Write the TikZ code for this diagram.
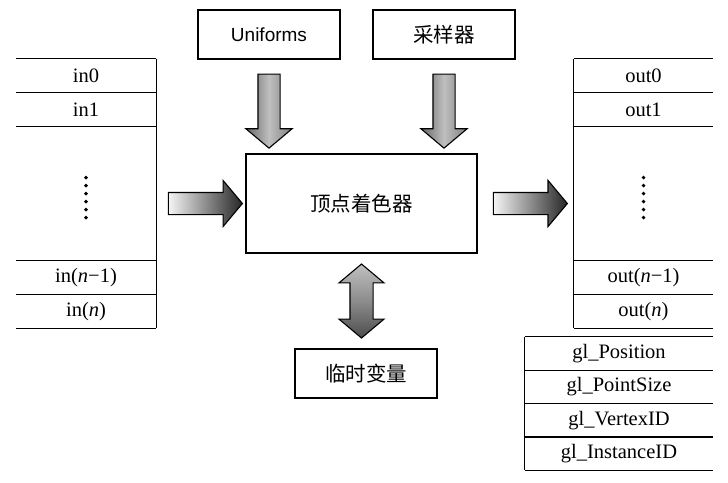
\documentclass[tikz,border=0pt]{standalone}
\usepackage{fontspec}
\setmainfont{Liberation Serif}
\newfontfamily\cjk{Noto Sans CJK SC}
\newfontfamily\uisans{Liberation Sans}
\usetikzlibrary{shapes.arrows,positioning,calc}

\tikzset{
  box/.style={draw, line width=1.3pt, minimum width=142, minimum height=49,
    inner sep=0pt, font=\cjk\fontsize{20.5}{22}\selectfont},
  row/.style={minimum width=140, minimum height=33.4, inner sep=0pt,
    font=\fontsize{20.5}{22}\selectfont},
  tableline/.style={line width=1.3pt},
  blockarrow/.style={single arrow, draw, line width=1.1pt, inner sep=10.5pt,
    minimum height=74, single arrow head extend=12,
    single arrow tip angle=100},
  rightarrow/.style={blockarrow, shading=axis, left color=gray!8, right color=black!85},
  downarrow/.style={blockarrow, shape border rotate=270,
    left color=black!60, right color=black!50, middle color=black!25},
  bothways/.style={double arrow, draw, line width=1.1pt, inner sep=11pt,
    shape border rotate=90, minimum height=74,
    double arrow head extend=11, double arrow tip angle=100,
    top color=black!25, bottom color=black!70, middle color=black!45}
}

\begin{document}
\begin{tikzpicture}[x=1pt, y=-1pt]
    \useasboundingbox (0,0) rectangle (728,482);

    % Inputs of the shader
    \node[box, font=\uisans\fontsize{19}{21}\selectfont] (uni) at (269,34.5) {Uniforms};
    \node[box] (samp) at (444,34.5) {采样器};
    \node[box, minimum width=231, minimum height=99] (vs) at (361.5,203.5) {顶点着色器};
    \node[box] (tmp) at (366,373.5) {临时变量};

    % Attribute table in
    \node[row] (in0) at (86,75.7) {in0};
    \node[row, below=0pt of in0] (in1) {in1};
    \node[row, below=0pt of in1, minimum height=134] (indots) {};
    \node[row, below=0pt of indots] (inm) {in({\itshape n}−1)};
    \node[row, below=0pt of inm] (inn) {in({\itshape n})};
    \foreach \r in {in0,in1,indots,inm,inn}
        \draw[tableline] (\r.north west) -- (\r.north east);
    \draw[tableline] (inn.south west) -- (inn.south east);
    \draw[tableline] (in0.north east) -- (inn.south east);
    \foreach \k in {0,...,5}
        \fill ($(indots.center)+(0,-16+8*\k)$) circle (1.9pt);

    % Varying table out
    \node[row, minimum width=139] (out0) at (643.5,75.7) {out0};
    \node[row, minimum width=139, below=0pt of out0] (out1) {out1};
    \node[row, minimum width=139, below=0pt of out1, minimum height=134] (outdots) {};
    \node[row, minimum width=139, below=0pt of outdots] (outm) {out({\itshape n}−1)};
    \node[row, minimum width=139, below=0pt of outm] (outn) {out({\itshape n})};
    \foreach \r in {out0,out1,outdots,outm,outn}
        \draw[tableline] (\r.north west) -- (\r.north east);
    \draw[tableline] (outn.south west) -- (outn.south east);
    \draw[tableline] (out0.north west) -- (outn.south west);
    \foreach \k in {0,...,5}
        \fill ($(outdots.center)+(0,-16+8*\k)$) circle (1.9pt);

    % Built-in variables
    \node[row, minimum width=188, minimum height=33] (glpos) at (619,353.5) {gl\_Position};
    \node[row, minimum width=188, minimum height=33, below=0pt of glpos] (glsize) {gl\_PointSize};
    \node[row, minimum width=188, minimum height=33, below=0pt of glsize] (glvid) {gl\_VertexID};
    \node[row, minimum width=188, minimum height=33, below=0pt of glvid] (glinst) {gl\_InstanceID};
    \foreach \r in {glpos,glsize,glvid,glinst}
        \draw[tableline] (\r.north west) -- (\r.north east);
    \draw[tableline] (glinst.south west) -- (glinst.south east);
    \draw[tableline] (glpos.north west) -- (glinst.south west);

    % Block arrows
    \node[downarrow] (uniarrow) at ($(uni.south)!0.5!(uni.south |- vs.north)$) {};
    \node[downarrow] (samparrow) at ($(samp.south)!0.5!(samp.south |- vs.north)$) {};
    \node[rightarrow] (inarrow) at ($(in0.east |- vs.center)!0.5!(vs.west)$) {};
    \node[rightarrow] (outarrow) at ($(vs.east)!0.5!(out0.west |- vs.center)$) {};
    \node[bothways] (tmparrow) at ($(vs.south)!0.5!(vs.south |- tmp.north)$) {};
\end{tikzpicture}
\end{document}
